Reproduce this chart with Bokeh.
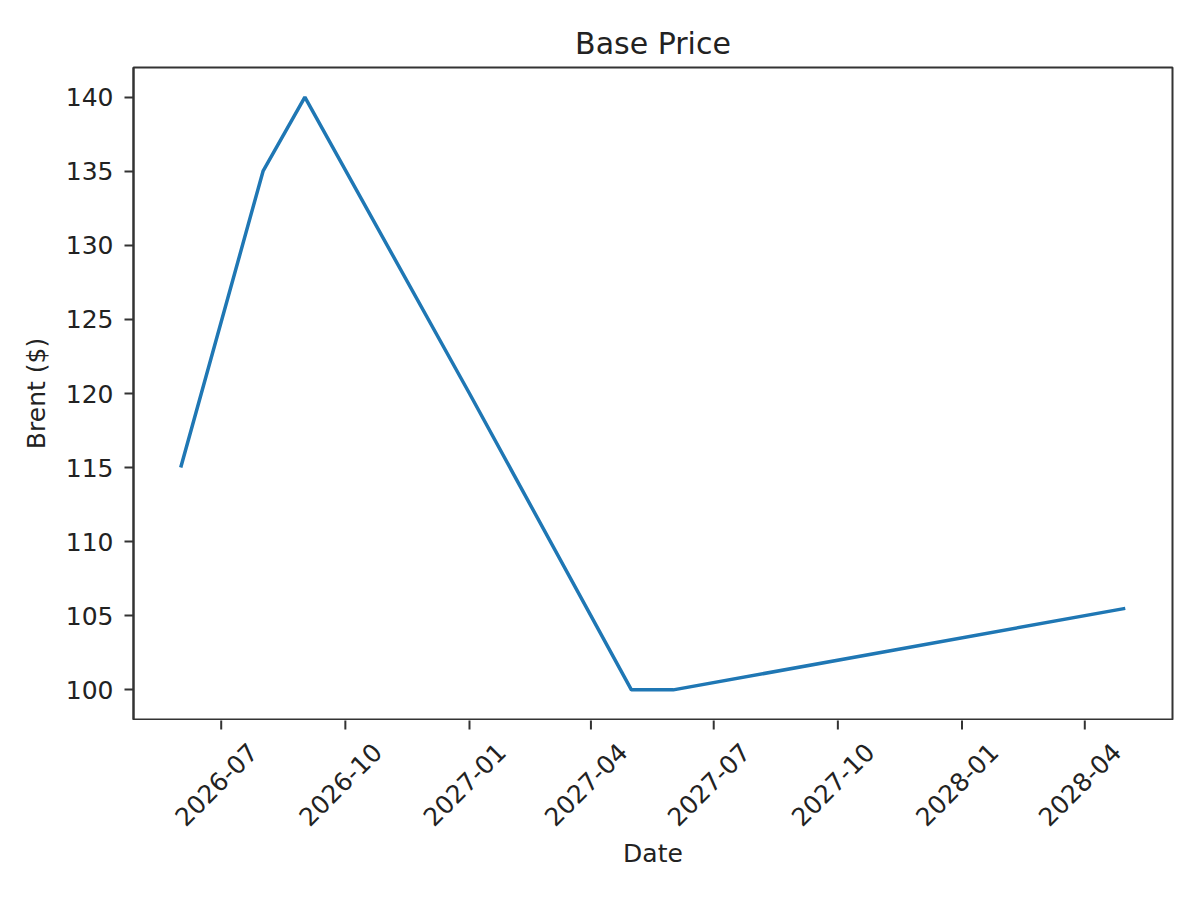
import math
from datetime import datetime
from bokeh.plotting import figure
from bokeh.layouts import column
from bokeh.models import (ColumnDataSource, Range1d, SingleIntervalTicker, LabelSet, Label)
from bokeh.core.properties import value
from bokeh.embed import file_html
from bokeh.resources import INLINE

# ---- data ----
dates = ["2026-06-01", "2026-08-01", "2026-09-01", "2027-01-01", "2027-05-01", "2027-06-01", "2028-05-01"]
brent = [115, 135, 140, 120, 100, 100, 105.5]
tick_dates = ["2026-07-01", "2026-10-01", "2027-01-01", "2027-04-01",
              "2027-07-01", "2027-10-01", "2028-01-01", "2028-04-01"]
tick_labels = ["2026-07", "2026-10", "2027-01", "2027-04", "2027-07", "2027-10", "2028-01", "2028-04"]
title_text = "Base Price"
x_label = "Date"
y_label = "Brent ($)"

x = [datetime.strptime(d, "%Y-%m-%d") for d in dates]
tx = [datetime.strptime(d, "%Y-%m-%d") for d in tick_dates]
src = ColumnDataSource(dict(x=x, y=brent))

# matplotlib-like 5% margins
span = x[-1] - x[0]
pad = span * 0.05
ymin, ymax = min(brent), max(brent)
ypad = (ymax - ymin) * 0.05
xr = Range1d(x[0] - pad, x[-1] + pad)

FONT = "DejaVu Sans"
INK = "#222222"
SPINE = "#333333"
W = 1184

# ---- main plot ----
p = figure(width=W, height=720, x_axis_type="datetime", x_axis_location=None,
           output_backend="svg", toolbar_location=None,
           x_range=xr, y_range=Range1d(ymin - ypad, ymax + ypad),
           min_border_left=133, min_border_right=12, min_border_top=67, min_border_bottom=1)

p.line("x", "y", source=src, line_color="#1f77b4", line_width=3.5)

p.title.text = title_text
p.title.align = "center"
p.title.text_font = FONT
p.title.text_font_style = "normal"
p.title.text_font_size = "30px"
p.title.text_color = INK
p.title.standoff = 14

p.xgrid.visible = False
p.ygrid.visible = False
p.outline_line_color = SPINE
p.outline_line_width = 2

ya = p.yaxis[0]
ya.axis_line_color = SPINE
ya.axis_line_width = 2
ya.major_tick_line_color = SPINE
ya.major_tick_line_width = 2
ya.major_tick_in = 0
ya.major_tick_out = 9
ya.minor_tick_line_color = None
ya.major_label_text_font = FONT
ya.major_label_text_font_size = "25px"
ya.major_label_text_color = INK
ya.axis_label = y_label
ya.axis_label_text_font = FONT
ya.axis_label_text_font_size = "25px"
ya.axis_label_text_font_style = "normal"
ya.axis_label_text_color = INK
ya.ticker = SingleIntervalTicker(interval=5)
ya.major_label_standoff = 11
ya.axis_label_standoff = 12

# ---- x tick strip (ticks + centred, rotated labels, matplotlib style) ----
q = figure(width=W, height=161, x_axis_type="datetime",
           x_axis_location=None, y_axis_location=None,
           output_backend="svg", toolbar_location=None,
           x_range=xr, y_range=Range1d(0, 1),
           min_border_left=133, min_border_right=12, min_border_top=0, min_border_bottom=0)
q.xgrid.visible = False
q.ygrid.visible = False
q.outline_line_color = None

tick_src = ColumnDataSource(dict(x=tx, y=[1] * len(tx), text=tick_labels))
q.scatter("x", "y", source=tick_src, marker="dash", angle=math.pi / 2, size=18,
          line_color=SPINE, line_width=2)

q.add_layout(LabelSet(x="x", y="y", text="text", source=tick_src,
                      angle=math.pi / 4, text_align="center", text_baseline="middle",
                      x_offset=-5, y_offset=-64,
                      text_font=value(FONT), text_font_size="25px", text_color=INK))

mid = xr.start + (xr.end - xr.start) / 2
q.add_layout(Label(x=mid, y=0, text=x_label, text_align="center", text_baseline="middle",
                   y_offset=28, text_font=FONT, text_font_size="25px", text_color=INK))

layout = column(p, q, spacing=0)
open("out.html", "w").write(file_html(layout, INLINE))
